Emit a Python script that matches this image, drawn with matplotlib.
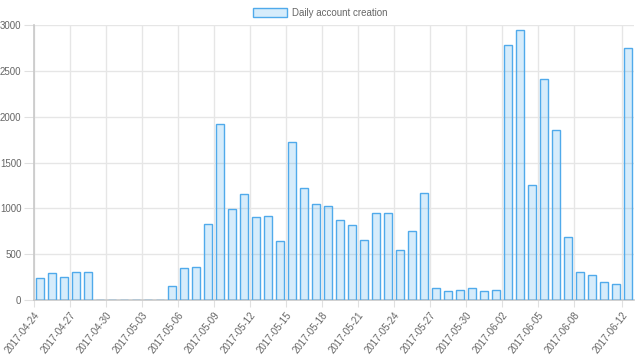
import pandas as pd
import matplotlib.pyplot as plt

# daily counts, 2017-04-24 .. 2017-06-12
dates = pd.date_range('2017-04-24', '2017-06-12').strftime('%Y-%m-%d').tolist()
counts = [240, 300, 250, 308, 305, 0, 0, 0, 0, 0,
          0, 150, 353, 360, 833, 1920, 990, 1153, 902, 912,
          640, 1727, 1225, 1050, 1022, 869, 818, 658, 945, 945,
          542, 753, 1171, 127, 98, 109, 127, 98, 109, 2779,
          2945, 1251, 2411, 1855, 691, 309, 273, 198, 175, 2749]
label_idx = [0, 3, 6, 9, 12, 15, 18, 21, 24, 27, 30, 33, 36, 39, 42, 45, 49]
series_name = 'Daily account creation'

plt.rcParams['font.family'] = ['Liberation Sans', 'DejaVu Sans']

fig = plt.figure(figsize=(6.4, 3.6), dpi=100)
ax = fig.add_axes([34 / 640, 60 / 360, 600 / 640, 275 / 360])

fill = (54 / 255, 162 / 255, 235 / 255, 0.2)
edge = (80 / 255, 170 / 255, 235 / 255)
x = list(range(len(counts)))
ax.bar(x, counts, width=0.7, color=fill, edgecolor=edge, linewidth=1, label=series_name, zorder=3)

ax.set_xlim(-0.5, len(counts) - 0.5)
ax.set_ylim(0, 3000)
ax.set_yticks(range(0, 3001, 500))
ax.set_xticks([i - 0.5 for i in label_idx])
ax.set_xticklabels([dates[i] for i in label_idx], rotation=52, ha='right', rotation_mode='anchor')

ax.grid(True, color='#e6e6e6', linewidth=1, zorder=0)
ax.tick_params(axis='both', colors='#e0e0e0', labelcolor='#666666', labelsize=7)
ax.tick_params(axis='y', length=7, pad=2)
ax.tick_params(axis='x', length=5, pad=2)
for s in ['top', 'right']:
    ax.spines[s].set_visible(False)
for s in ['left', 'bottom']:
    ax.spines[s].set_color('#c8c8c8')
    ax.spines[s].set_linewidth(1.2)

fig.legend(loc='center', bbox_to_anchor=(0.5, 1 - 13 / 360), frameon=False,
           fontsize=7, labelcolor='#666666', handlelength=3.5, handleheight=1.0,
           handletextpad=0.5)

fig.savefig('out.png', dpi=100)
